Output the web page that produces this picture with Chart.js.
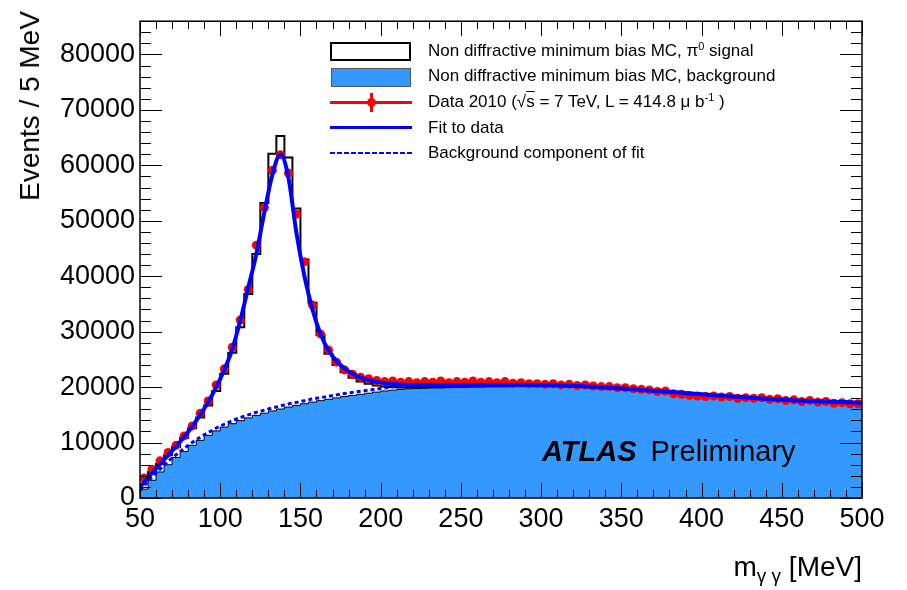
<!DOCTYPE html>
<html>
<head>
<meta charset="utf-8">
<script src="https://cdn.jsdelivr.net/npm/chart.js@4/dist/chart.umd.min.js"></script>
<style>
  body { margin: 0; background: #fff; font-family: 'Liberation Sans', Arial, sans-serif; }
  #wrap { position: relative; width: 907px; height: 590px; overflow: hidden; }
  #plot { position: absolute; left: 0; top: 0; }
  .ytitle { position: absolute; left: 30px; top: 11px; font-size: 28px; white-space: nowrap;
            transform-origin: 0 0; transform: rotate(-90deg) translate(-100%, -50%); }
  .xtitle { position: absolute; right: 45px; top: 551px; font-size: 28px; white-space: nowrap; }
  .xtitle sub { font-size: 19px; vertical-align: -6px; line-height: 0; }
  .atlas { position: absolute; left: 542px; top: 435px; font-size: 29px; white-space: nowrap; }
  .atlas b { font-style: italic; margin-right: 14px; }
  .legend { position: absolute; left: 0; top: 0; }
  .sym { position: absolute; }
  .txt { position: absolute; left: 428px; font-size: 17px; white-space: nowrap; line-height: 18px; }
  .txt sup { font-size: 11px; vertical-align: 6px; line-height: 0; }
  .ov { text-decoration: overline; }
</style>
</head>
<body>
<div id="wrap">
  <canvas id="plot" width="907" height="590"></canvas>
  <div class="ytitle">Events / 5 MeV</div>
  <div class="xtitle">m<sub>γ γ</sub> [MeV]</div>
  <div class="atlas"><b>ATLAS</b>Preliminary</div>
  <div class="legend">
    <div class="sym" style="left:330px;top:42px;width:77px;height:15px;border:2.5px solid #000;background:#fff"></div>
    <div class="sym" style="left:331px;top:68px;width:78px;height:17px;border:1px solid #555;background:rgb(51,153,255)"></div>
    <div class="sym" style="left:330px;top:101px;width:82px;height:3px;background:#f00"></div>
    <div class="sym" style="left:367px;top:98px;width:9px;height:9px;border-radius:50%;background:#f00"></div>
    <div class="sym" style="left:370px;top:93px;width:3px;height:19px;background:#f00"></div>
    <div class="sym" style="left:330px;top:126px;width:82px;height:3px;background:#00f"></div>
    <div class="sym" style="left:330px;top:152px;width:82px;height:2px;background:repeating-linear-gradient(90deg,#00f 0 5px,transparent 5px 7px)"></div>
    <div class="txt" style="top:42px">Non diffractive minimum bias MC, π<sup>0</sup> signal</div>
    <div class="txt" style="top:67px">Non diffractive minimum bias MC, background</div>
    <div class="txt" style="top:93px">Data 2010 (√<span class="ov">s</span> = 7 TeV, L = 414.8 μ b<sup>-1</sup> )</div>
    <div class="txt" style="top:119px">Fit to data</div>
    <div class="txt" style="top:144px">Background component of fit</div>
  </div>
</div>
<script>
// diphoton mass spectrum, 5 MeV bins from 50 to 500 MeV
const binLow = Array.from({ length: 90 }, (_, i) => 50 + 5 * i)

// MC stack: total (signal + background) and background only
const mcTotal = [
  3300, 4700, 6200, 7700, 9200, 10800, 12600, 14500, 16700, 19300,
  22400, 26200, 30800, 36800, 44000, 53200, 62100, 65300, 61400, 52200,
  43000, 35200, 29400, 26000, 24000, 22700, 21700, 21000, 20600, 20300,
  20100, 20000, 19950, 19950, 19950, 19950, 20000, 19950, 20050, 20050,
  20100, 20100, 20100, 20150, 20150, 20150, 20150, 20150, 20150, 20200,
  20300, 20250, 20200, 20150, 20100, 20000, 19950, 19900, 19800, 19700,
  19650, 19550, 19450, 19300, 19200, 19050, 18950, 18800, 18650, 18500,
  18400, 18250, 18150, 18100, 18000, 17900, 17850, 17750, 17700, 17600,
  17550, 17450, 17350, 17300, 17200, 17100, 17050, 16950, 16900, 16850
]
const mcBackground = [
  1600, 3200, 4700, 6000, 7300, 8400, 9500, 10400, 11300, 12100,
  12800, 13400, 13950, 14450, 14900, 15300, 15700, 16050, 16400, 16700,
  17000, 17300, 17550, 17800, 18050, 18300, 18500, 18700, 18900, 19100,
  19300, 19450, 19600, 19700, 19750, 19800, 19850, 19850, 19900, 19950,
  19950, 20000, 20000, 20050, 20050, 20050, 20100, 20100, 20100, 20150,
  20200, 20150, 20100, 20050, 20000, 19950, 19900, 19800, 19750, 19650,
  19600, 19500, 19400, 19250, 19150, 19000, 18900, 18750, 18600, 18450,
  18300, 18200, 18100, 18000, 17950, 17850, 17800, 17700, 17650, 17550,
  17500, 17400, 17300, 17250, 17150, 17050, 17000, 16900, 16850, 16800
]

// Data 2010, events per bin (bin centres)
const dataCounts = [
  3600, 5200, 6700, 8200, 9500, 11200, 13000, 15300, 17500, 20400,
  23300, 27200, 32100, 37600, 45600, 52400, 59100, 61900, 58600, 51200,
  42600, 34800, 29600, 26700, 24500, 23100, 22300, 21800, 21500, 21200,
  21000, 21100, 20900, 21000, 20800, 21000, 20900, 21100, 20800, 21000,
  20900, 21100, 20900, 21000, 20800, 21000, 20700, 20800, 20600, 20600,
  20500, 20600, 20400, 20500, 20300, 20400, 20200, 20100, 20100, 19900,
  19900, 19700, 19600, 19500, 19200, 19300, 18800, 18700, 18500, 18400,
  18300, 18400, 18200, 18300, 18000, 18100, 18000, 18100, 17800, 17900,
  17600, 17700, 17400, 17600, 17300, 17400, 17100, 17200, 17000, 17000
]

// fit curves, sampled at the range ends and the bin centres
const fitMass = [50, ...binLow.map(m => m + 2.5), 500]
const fitTotal = [
  2000,
  2800, 4500, 6100, 7700, 9300, 11000, 12900, 15000, 17300, 20000,
  23100, 26800, 32000, 38000, 44000, 51500, 58300, 62000, 57800, 47800,
  40000, 34000, 29600, 26600, 24700, 23400, 22400, 21700, 21250, 20950,
  20700, 20550, 20450, 20400, 20400, 20400, 20400, 20400, 20400, 20400,
  20400, 20400, 20400, 20400, 20400, 20400, 20400, 20400, 20400, 20375,
  20350, 20325, 20300, 20250, 20200, 20125, 20050, 19975, 19900, 19800,
  19700, 19600, 19500, 19400, 19300, 19200, 19100, 18975, 18850, 18750,
  18650, 18550, 18450, 18350, 18250, 18150, 18050, 17950, 17850, 17775,
  17700, 17625, 17550, 17500, 17450, 17400, 17350, 17300, 17250, 17200,
  17180
]
const fitBackground = [
  1300,
  2200, 3800, 5200, 6600, 7800, 8950, 10000, 10950, 11800, 12600,
  13300, 13950, 14500, 15000, 15450, 15850, 16250, 16600, 16950, 17250,
  17550, 17850, 18100, 18350, 18600, 18850, 19050, 19250, 19450, 19650,
  19850, 20000, 20150, 20250, 20300, 20350, 20400, 20400, 20400, 20400,
  20400, 20400, 20400, 20400, 20400, 20400, 20400, 20400, 20400, 20375,
  20350, 20325, 20300, 20250, 20200, 20125, 20050, 19975, 19900, 19800,
  19700, 19600, 19500, 19400, 19300, 19200, 19100, 18975, 18850, 18750,
  18650, 18550, 18450, 18350, 18250, 18150, 18050, 17950, 17850, 17775,
  17700, 17625, 17550, 17500, 17450, 17400, 17350, 17300, 17250, 17200,
  17180
]

const xTicks = [50, 100, 150, 200, 250, 300, 350, 400, 450, 500]
const yTicks = [0, 10000, 20000, 30000, 40000, 50000, 60000, 70000, 80000]
const yMax = 86000

// histogram outline: value of each bin held from its low edge, closed at 500
const histPoints = vals => [...binLow.map((m, i) => ({ x: m, y: vals[i] })), { x: 500, y: vals[vals.length - 1] }]
const curvePoints = vals => fitMass.map((m, i) => ({ x: m, y: vals[i] }))

const BLUE_FILL = 'rgb(51,153,255)'

// red error bars: bin width horizontally, sqrt(N) vertically
const errorBars = {
  id: 'errorBars',
  afterDatasetDraw(chart, args) {
    if (chart.data.datasets[args.index].label !== 'data') return
    const { ctx, scales: { x, y } } = chart
    ctx.save()
    ctx.strokeStyle = '#ff0000'
    ctx.lineWidth = 2
    ctx.beginPath()
    binLow.forEach((m, i) => {
      const n = dataCounts[i]
      const py = y.getPixelForValue(n)
      ctx.moveTo(x.getPixelForValue(m), py)
      ctx.lineTo(x.getPixelForValue(m + 5), py)
      const px = x.getPixelForValue(m + 2.5)
      ctx.moveTo(px, y.getPixelForValue(n - Math.sqrt(n)))
      ctx.lineTo(px, y.getPixelForValue(n + Math.sqrt(n)))
    })
    ctx.stroke()
    ctx.restore()
  }
}

// frame with tick marks pointing inwards on all four sides
const frameTicks = {
  id: 'frameTicks',
  afterDraw(chart) {
    const { ctx, chartArea: a, scales: { x, y } } = chart
    ctx.save()
    ctx.strokeStyle = '#000'
    ctx.lineWidth = 1
    ctx.beginPath()
    for (let m = 50; m <= 500; m += 10) {
      const px = Math.round(x.getPixelForValue(m)) + 0.5
      const len = m % 50 === 0 ? 15 : 8
      ctx.moveTo(px, a.bottom); ctx.lineTo(px, a.bottom - len)
      ctx.moveTo(px, a.top); ctx.lineTo(px, a.top + len)
    }
    for (let v = 0; v <= yMax; v += 2000) {
      const py = Math.round(y.getPixelForValue(v)) + 0.5
      const len = v % 10000 === 0 ? 22 : 11
      ctx.moveTo(a.left, py); ctx.lineTo(a.left + len, py)
      ctx.moveTo(a.right, py); ctx.lineTo(a.right - len, py)
    }
    ctx.stroke()
    ctx.lineWidth = 1.5
    ctx.strokeRect(a.left, a.top, a.right - a.left, a.bottom - a.top)
    ctx.restore()
  }
}

const tickFont = { family: "'Liberation Sans', Arial, sans-serif", size: 27 }

new Chart(document.getElementById('plot'), {
  type: 'line',
  data: {
    datasets: [
      {
        label: 'fit',
        data: curvePoints(fitTotal),
        borderColor: '#0000ff',
        borderWidth: 4,
        cubicInterpolationMode: 'monotone',
        pointRadius: 0,
        fill: false,
        order: 0
      },
      {
        label: 'fitBackground',
        data: curvePoints(fitBackground),
        borderColor: '#0000ff',
        borderWidth: 3,
        borderDash: [4, 3],
        cubicInterpolationMode: 'monotone',
        pointRadius: 0,
        fill: false,
        order: 1
      },
      {
        label: 'data',
        data: binLow.map((m, i) => ({ x: m + 2.5, y: dataCounts[i] })),
        showLine: false,
        pointRadius: 4.5,
        pointBackgroundColor: '#ff0000',
        pointBorderWidth: 0,
        order: 2
      },
      {
        label: 'mcBackground',
        data: histPoints(mcBackground),
        stepped: true,
        borderColor: '#000',
        borderWidth: 1,
        backgroundColor: BLUE_FILL,
        fill: 'origin',
        pointRadius: 0,
        order: 3
      },
      {
        label: 'mcTotal',
        data: histPoints(mcTotal),
        stepped: true,
        borderColor: '#000',
        borderWidth: 2,
        fill: false,
        pointRadius: 0,
        order: 4
      }
    ]
  },
  options: {
    responsive: false,
    animation: false,
    layout: { padding: { top: 10, right: 45, left: 0, bottom: 0 } },
    plugins: { legend: { display: false }, tooltip: { enabled: false } },
    scales: {
      x: {
        type: 'linear',
        min: 50,
        max: 500,
        afterFit(scale) { scale.height = 92 },
        afterBuildTicks(scale) { scale.ticks = xTicks.map(v => ({ value: v })) },
        ticks: { color: '#000', font: tickFont, padding: 5, maxRotation: 0, autoSkip: false },
        grid: { display: false, drawTicks: false },
        border: { display: false }
      },
      y: {
        min: 0,
        max: yMax,
        afterFit(scale) { scale.width = 140 },
        afterBuildTicks(scale) { scale.ticks = yTicks.map(v => ({ value: v })) },
        ticks: { color: '#000', font: tickFont, padding: 5, callback: v => String(v) },
        grid: { display: false, drawTicks: false },
        border: { display: false }
      }
    }
  },
  plugins: [errorBars, frameTicks]
})
</script>
</body>
</html>
